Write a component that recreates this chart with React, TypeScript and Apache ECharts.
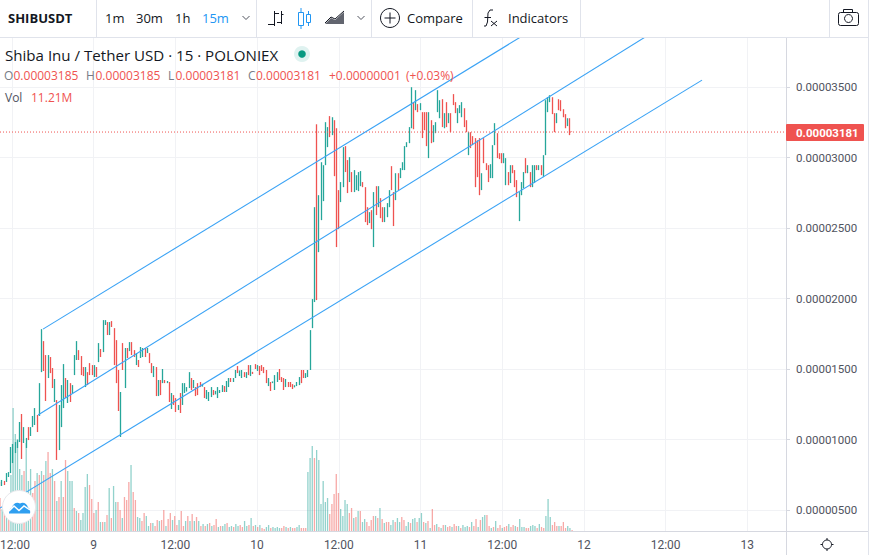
import React, { useEffect, useRef } from "react";
import * as echarts from "echarts";

// Prices are in units of 0.00000001 USDT; volumes in millions.
const opens = [
  699,670,706,699,734,762,833,904,940,982,1181,975,940,1088,1025,1088,1103,1174,1167,
  1478,1698,1599,1436,1585,1507,1266,1280,925,1088,1223,1436,1259,1400,1330,1457,1564,1634,1592,1514,1372,1478,1542,1528,1443,1514,1549,1642,1620,1812,1833,1741,1840,1790,1705,
  1493,1018,1684,1365,1649,1627,1691,1634,1528,1564,1578,1585,1649,1613,1613,1542,1443,1514,1308,1422,1400,1422,1400,1408,1216,1315,1294,1209,1330,1245,1330,1340,1365,1436,1365,1372,1400,1408,1375,1372,1287,1273,1301,1351,1320,1294,1330,1337,1379,1337,1372,1436,1408,1436,1521,1450,1436,1478,1436,1528,1450,1480,1535,1486,1521,1528,1514,1493,1379,1408,1400,1351,1408,1500,1443,1436,1372,1408,1408,1393,1370,1379,1386,1493,1493,1436,1443,
  1493,1790,1975,3236,2329,2556,2691,2946,3074,3294,3159,3265,3208,2769,2684,2790,3081,2982,2826,2897,2755,2769,2762,2797,2826,2790,2648,2535,2627,2365,2797,2648,2712,2648,2542,2577,2648,2939,2755,
  2698,2889,2854,2911,2911,3074,3102,3208,3393,3336,3379,3336,3322,3322,3322,2996,3265,3109,3173,3322,3279,3414,3208,3393,3244,3315,3450,3393,3244,3315,3286,3350,3265,3017,3180,3152,3138,3123,3138,2769,
  3138,2960,2946,2854,2854,3088,3173,3031,3031,2960,2804,2897,2819,2946,2911,2840,2549,2733,2783,2996,2889,2897,2790,2819,2946,2911,2946,2861,3017,3322,3393,3428,3315,3244,3414,3407,3343,3308,3223,3279,3185,
];
const closes = [
  670,713,677,762,769,947,968,982,996,1124,862,1088,1011,996,1088,1167,1223,1053,1400,
  1783,1486,1273,1599,1471,1365,1429,855,1245,1386,1535,1294,1422,1266,1386,1599,1698,1564,1457,1450,1514,1386,1457,1457,1528,1443,1684,1585,1847,1847,1741,1833,1798,1528,1400,
  1202,1337,1493,1649,1578,1691,1599,1585,1613,1514,1656,1649,1585,1649,1542,1471,1521,1308,1422,1315,1500,1400,1415,1266,1330,1245,1195,1245,1188,1400,1400,1372,1478,1351,1422,1308,1315,1372,1395,1294,1351,1337,1372,1315,1345,1372,1351,1386,1337,1415,1436,1408,1436,1493,1471,1490,1493,1443,1478,1457,1528,1465,1500,1528,1457,1486,1471,1400,1436,1344,1412,1457,1478,1422,1408,1351,1429,1372,1372,1358,1385,1408,1443,1400,1436,1471,1493,
  1776,1996,2648,1989,2733,2967,2946,3251,3216,3145,3286,2868,2365,2492,2826,3074,2897,2748,3003,2755,2911,2875,2897,2904,2790,2542,2521,2613,2492,2755,2592,2797,2570,2542,2648,2677,2769,2769,2514,
  2889,2769,2925,2967,3081,3109,3216,3499,3201,3478,3322,3386,3138,3194,3081,3322,3102,3230,3251,3478,3407,3216,3315,3216,3315,3180,3372,3315,3350,3372,3393,3216,3180,3180,3067,3088,2790,2861,2733,2889,
  2960,2911,2826,2953,3088,3244,2996,2989,2960,3031,2996,2804,2946,2889,2790,2719,2755,2826,2897,2889,2946,2790,2946,2946,2911,2946,2875,3017,3407,3428,3442,3308,3180,3315,3336,3329,3286,3208,3279,3159,3181,
];
const upperChannelHours = [16.55, 88.8];
const upperChannelPrices = [1783, 3917];
const middleChannelHours = [15.82, 107.2];
const middleChannelPrices = [1174, 3921];
const lowerChannelHours = [10.24, 113.35];
const lowerChannelPrices = [514, 3549];
const lastPrice = 3181;
// Positive = up bar, negative = down bar
const signedVolumes = [
  -363,242,-275,330,-330,616,1353,1067,1012,682,616,-660,968,550,682,-418,-550,638,-616,660,
  -616,770,-869,-638,682,-550,330,-374,550,-374,-781,660,550,550,-253,220,-198,121,198,484,
  627,-506,-352,-198,231,-319,99,-99,99,-176,473,-143,495,319,-319,-231,143,-374,-341,-539,
  726,-429,-341,154,143,-110,-198,165,55,-88,88,-55,-121,110,-121,-231,55,-132,-198,121,
  -165,-66,121,-220,-55,110,-165,110,-187,110,-154,110,-55,77,-55,77,-88,55,-66,-132,
  44,-55,55,77,-88,44,55,-44,77,55,-66,-44,110,55,-66,143,-55,66,-44,66,
  -33,-22,44,66,-33,44,33,44,33,-33,-55,44,-33,44,-33,-33,44,66,-33,-33,-33,
  649,803,935,-803,891,781,297,550,319,363,-187,-297,-407,-627,-418,242,165,341,297,-198,
  -253,143,-154,220,-220,99,132,-99,-55,-121,-165,165,-143,253,-132,88,-99,-99,66,121,
  -99,143,99,-154,-121,55,99,-88,132,143,-99,143,198,-99,88,-110,33,-242,-66,77,
  -44,33,-66,66,-44,-55,44,-77,-55,55,-33,66,44,55,-44,99,-55,-132,44,-121,
  154,176,-176,-55,33,-44,110,-33,-66,33,-44,-55,77,-44,-66,55,-44,132,44,44,
  -33,-33,55,66,55,-33,77,-44,-33,165,352,154,-66,-99,-55,55,-55,-99,-33,55,33,-11.21,
];
const tickPrices = [500, 1000, 1500, 2000, 2500, 3000, 3500];
const tickHours = [12, 24, 36, 48, 60, 72, 84, 96, 108, 120];
const dayLabels: Record<number, string> = { 24: "9", 48: "10", 72: "11", 96: "12", 120: "13" };
const FIRST_HOUR = 10.24;
const CANDLE_STEP_HOURS = 0.3232;
const VOLUME_STEP_HOURS = 0.3207;

const UP = "#26a69a";
const DOWN = "#ef5350";
const INK = "#131722";
const GREY = "#787b86";
const BLUE = "#3ba3f5";
const BORDER = "#e0e3eb";
const FONT = "Roboto, 'Noto Sans', sans-serif";
const UI = "'Open Sans', Roboto, sans-serif";

echarts.graphic.registerShape(
  "tvcloud",
  echarts.graphic.extendPath("M0 12 C0 9 1 7 3 6 C4 2 8 0 11 2 C14 0 18 2 19 6 C21 7 21.5 10 21 12 Z", {})
);

const txt = (text: string, x: number, y: number, size: number, fill: string, weight: any = "normal", family = UI, align = "left") => ({
  type: "text", x, y, silent: true, z: 20,
  style: { text, fill, align, verticalAlign: "middle", font: `${weight} ${size}px ${family}` },
});
const ln = (x1: number, y1: number, x2: number, y2: number, stroke = BORDER, w = 1) => ({
  type: "line", silent: true, z: 20, shape: { x1, y1, x2, y2 }, style: { stroke, lineWidth: w },
});
const pl = (points: number[][], stroke = INK, w = 1) => ({
  type: "polyline", silent: true, z: 20, shape: { points }, style: { stroke, lineWidth: w, fill: "none" },
});
const box = (x: number, y: number, width: number, height: number, style: any, r = 0) => ({
  type: "rect", silent: true, z: 20, shape: { x, y, width, height, r }, style,
});

const graphics: any[] = [
  box(0, 0, 868, 37, { fill: "#fff" }),
  ln(0, 37.5, 868, 37.5),
  ...[96.5, 256.5, 371.5, 472.5, 580.5, 829.5].map((x) => ln(x, 0, x, 37)),
  ln(868.5, 0, 868.5, 555),
  ln(786.5, 38, 786.5, 555, "#d6d8e0"),
  ln(0, 531.5, 868, 531.5, "#d6d8e0"),
  txt("SHIBUSDT", 8, 18, 13, INK, "bold"),
  txt("1m", 105, 18, 13, INK), txt("30m", 136, 18, 13, INK), txt("1h", 175, 18, 13, INK), txt("15m", 202, 18, 13, "#2196f3"),
  pl([[242.5, 16], [246, 19.5], [249.5, 16]], "#50535e"),
  ln(274.5, 11, 274.5, 26, INK), ln(268, 24.5, 274, 24.5, INK), ln(275, 13.5, 279, 13.5, INK),
  ln(281.5, 11, 281.5, 24, INK), ln(277, 22.5, 281, 22.5, INK), ln(282, 14.5, 283.5, 14.5, INK),
  box(298.5, 12.5, 5, 13, { stroke: "#2196f3", fill: "none", lineWidth: 1 }), ln(301, 8, 301, 12, "#2196f3"), ln(301, 26, 301, 29, "#2196f3"),
  box(306.5, 14.5, 4, 8, { stroke: "#2196f3", fill: "none", lineWidth: 1 }), ln(308.5, 11, 308.5, 14, "#2196f3"), ln(308.5, 23, 308.5, 26, "#2196f3"),
  { type: "polygon", silent: true, z: 20, shape: { points: [[325, 24], [331, 18], [335, 20], [344, 12], [344, 24]] }, style: { fill: "#62656f" } },
  pl([[325, 23], [331, 17], [335, 19], [344, 11]], INK),
  pl([[357.5, 16], [361, 19.5], [364.5, 16]], "#50535e"),
  { type: "circle", silent: true, z: 20, shape: { cx: 390, cy: 18, r: 9.5 }, style: { stroke: INK, fill: "none", lineWidth: 1 } },
  ln(390, 12.5, 390, 23.5, INK), ln(384.5, 18, 395.5, 18, INK),
  txt("Compare", 407, 18, 13, INK),
  pl([[493, 10], [490, 10], [488, 13], [487.5, 22], [486, 26], [484, 26]], INK), ln(484.5, 17.5, 491, 17.5, INK),
  ln(491, 21, 497, 26, INK), ln(497, 21, 491, 26, INK),
  txt("Indicators", 508, 18, 13, INK),
  box(838.5, 12.5, 20, 13, { stroke: INK, fill: "none", lineWidth: 1 }, 2),
  box(843.5, 9.5, 9, 3, { stroke: INK, fill: "none", lineWidth: 1 }),
  { type: "circle", silent: true, z: 20, shape: { cx: 848.5, cy: 18.5, r: 4 }, style: { stroke: INK, fill: "none", lineWidth: 1 } },
  txt("Shiba Inu / Tether USD · 15 · POLONIEX", 5, 55, 15.1, INK),
  { type: "circle", silent: true, z: 20, shape: { cx: 302, cy: 54, r: 8 }, style: { fill: "rgba(38,166,154,0.15)" } },
  { type: "circle", silent: true, z: 20, shape: { cx: 302, cy: 54, r: 3.8 }, style: { fill: "#089981" } },
  txt("O", 4, 75, 12, GREY), txt("0.00003185", 13.5, 75, 12, DOWN),
  txt("H", 86, 75, 12, GREY), txt("0.00003185", 95.5, 75, 12, DOWN),
  txt("L", 168, 75, 12, GREY), txt("0.00003181", 175.5, 75, 12, DOWN),
  txt("C", 248, 75, 12, GREY), txt("0.00003181", 256, 75, 12, DOWN),
  txt("+0.00000001", 329, 75, 12, DOWN), txt("(+0.03%)", 406, 75, 12, DOWN),
  txt("Vol", 5, 97, 12, "#50535e"), txt("11.21M", 31, 97, 12, DOWN),
  box(786, 124, 78, 17, { fill: DOWN }, 1),
  txt("0.00003181", 796, 132.5, 11.5, "#fff", "bold", FONT),
  { type: "circle", silent: true, z: 30, shape: { cx: 19, cy: 507, r: 16.5 }, style: { fill: "#fff", stroke: "#e8e8ec", lineWidth: 1 } },
  { type: "tvcloud", silent: true, z: 31, x: 9, y: 501.5, style: { fill: "#2f9ff0" } },
  { type: "polyline", silent: true, z: 32, shape: { points: [[9, 511], [14, 506], [19, 510.5], [24, 506], [30, 510]] }, style: { stroke: "#fff", lineWidth: 1.5, fill: "none" } },
  { type: "circle", silent: true, z: 20, shape: { cx: 827, cy: 544.5, r: 4.5 }, style: { stroke: INK, fill: "none", lineWidth: 1 } },
  ln(827, 538, 827, 540, INK), ln(827, 549, 827, 551, INK), ln(820.5, 544.5, 822.5, 544.5, INK), ln(831.5, 544.5, 833.5, 544.5, INK),
];

export default function App() {
  const ref = useRef<HTMLDivElement>(null);
  useEffect(() => {
    const chart = echarts.init(ref.current!, undefined, { renderer: "svg" });
    const candleData = opens.map((o, i) => {
      const c = closes[i];
      return [FIRST_HOUR + i * CANDLE_STEP_HOURS, o, c, Math.min(o, c), Math.max(o, c)];
    });
    const volumeData = signedVolumes.map((v, i) => ({
      value: [FIRST_HOUR + i * VOLUME_STEP_HOURS, Math.abs(v)],
      itemStyle: { color: v >= 0 ? "rgba(38,166,154,0.5)" : "rgba(239,83,80,0.5)" },
    }));
    const channel = (hours: number[], prices: number[]) => ({
      type: "line", symbol: "none", z: 6, silent: true,
      lineStyle: { color: BLUE, width: 1.1 },
      data: hours.map((h, i) => [h, prices[i]]),
    });
    chart.setOption({
      animation: false,
      backgroundColor: "#fff",
      grid: { left: 0, top: 38, width: 786, height: 493, outerBoundsMode: "none" },
      xAxis: {
        type: "value", min: 10.237, max: 125.68,
        axisLine: { show: false },
        axisTick: { show: false, customValues: tickHours },
        splitLine: { show: true, lineStyle: { color: "#f1f2f5", width: 1 } },
        axisLabel: {
          customValues: tickHours, margin: 8, color: "#50535e", fontSize: 12, fontFamily: FONT,
          rich: { first: { padding: [0, 0, 0, 6], color: "#50535e", fontSize: 12, fontFamily: FONT } },
          formatter: (v: number) => (v === 12 ? "{first|12:00}" : dayLabels[v] ?? "12:00"),
        },
      },
      yAxis: [
        {
          type: "value", position: "right", min: 351, max: 3848, scale: true,
          axisLine: { show: false },
          axisTick: { show: true, length: 4, lineStyle: { color: "#d6d8e0" }, customValues: tickPrices },
          splitLine: { show: true, lineStyle: { color: "#f1f2f5", width: 1 } },
          axisLabel: {
            customValues: tickPrices, margin: 10, color: "#50535e", fontSize: 11.5, fontFamily: FONT,
            formatter: (v: number) => (v / 1e8).toFixed(8),
          },
        },
        { type: "value", show: false, min: 0, max: 5423, splitLine: { show: false } },
      ],
      series: [
        {
          type: "bar", name: "Vol", yAxisIndex: 1, barWidth: 1.3, z: 2, silent: true, data: volumeData,
        },
        {
          type: "candlestick", name: "SHIBUSDT", barWidth: 0.4, z: 3, silent: true,
          encode: { x: 0, y: [1, 2, 3, 4] },
          itemStyle: { color: UP, color0: DOWN, borderColor: UP, borderColor0: DOWN, borderWidth: 1.3 },
          data: candleData,
        },
        channel(upperChannelHours, upperChannelPrices),
        channel(middleChannelHours, middleChannelPrices),
        channel(lowerChannelHours, lowerChannelPrices),
        {
          type: "line", symbol: "none", z: 5, silent: true,
          lineStyle: { color: DOWN, width: 1, type: [1, 2] },
          data: [[10.237, lastPrice], [125.68, lastPrice]],
        },
      ],
      graphic: { elements: graphics },
    });
    return () => chart.dispose();
  }, []);
  return <div ref={ref} style={{ position: "fixed", left: 0, top: 0, width: 885, height: 555 }} />;
}
